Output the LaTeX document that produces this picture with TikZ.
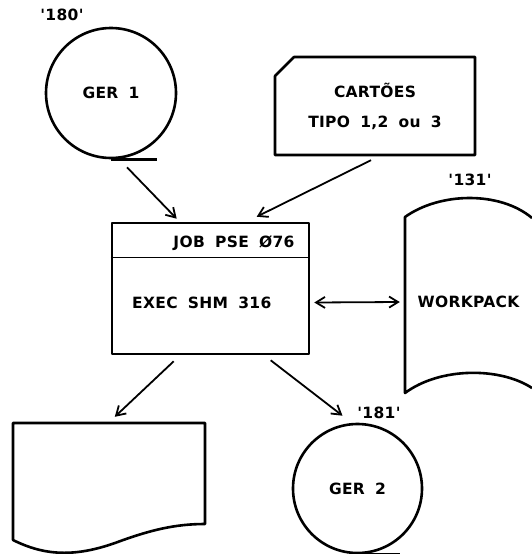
\documentclass[tikz,border=0pt]{standalone}
\usepackage{fontspec}
\usetikzlibrary{arrows.meta, calc}
\newfontfamily\lettering{DejaVu Sans}[LetterSpace=2, WordSpace=1.8]

\begin{document}
\begin{tikzpicture}[
  x=1pt, y=-1pt,
  >={Straight Barb[length=9pt, width=11pt]},
  every node/.style={font=\lettering\bfseries\fontsize{15.5}{18}\selectfont, inner sep=0pt},
  outline/.style={line width=2.6pt, line join=round},
  flow/.style={line width=1.8pt, ->},
]
\useasboundingbox (0,0) rectangle (532,554);

% --- Input tape GER 1 ---
\node[circle, draw, outline, minimum size=130pt] (ger1) at (111,93) {GER 1};
\draw[outline] (ger1.south) -- ++(46,0);
\node (lbl180) at (62,15) {'180'};

% --- Card deck ---
\node[minimum width=200pt, minimum height=98pt, align=center] (cards) at (375,106)
  {CARTÕES\\[12pt]TIPO 1,2 ou 3};
\draw[outline] (275,76) -- (294,57) -- (475,57) -- (475,155) -- (275,155) -- cycle;

% --- Job ---
\node[draw, outline, minimum width=197pt, minimum height=131pt] (job) at (210.5,288.5) {};
\draw[line width=1.4pt] ($(job.north west)+(0,36)$) -- ($(job.north east)+(0,36)$);
\node (jobcard) at (234,243) {JOB PSE Ø76};
\node[anchor=west] (exec) at (132,303) {EXEC SHM 316};

% --- Work disk ---
\node[minimum width=127pt, minimum height=150pt] (workpack) at (468.5,302) {WORKPACK};
\draw[outline] (532,218) .. controls (500,191) and (440,192) .. (405,217) -- (405,393)
  .. controls (440,367) and (500,367) .. (532,388);
\node (lbl131) at (470,180) {'131'};

% --- Output listing ---
\node[minimum width=192pt, minimum height=117pt] (listing) at (109,481.5) {};
\draw[outline] (13,540) -- (13,423) -- (205,423) -- (205,524)
  .. controls (175,524) and (150,530) .. (115,543)
  .. controls (75,557) and (45,556) .. cycle;

% --- Output tape GER 2 ---
\node[circle, draw, outline, minimum size=129pt] (ger2) at (357.5,488.5) {GER 2};
\draw[outline] (ger2.south) -- ++(42,0);
\node (lbl181) at (379,413) {'181'};

% Connections
\draw[flow] ($(ger1.south)+(16,8)$) -- ($(job.north west)+(66,-3)$);
\draw[flow] ($(cards.south)+(-4,5)$) -- ($(job.north west)+(146,-5)$);
\draw[flow, <->] ($(job.east)+(4,14)$) -- ($(workpack.west)+(-5,0)$);
\draw[flow] ($(job.south west)+(63,6)$) -- ($(listing.north west)+(102,-6)$);
\draw[flow] ($(job.south west)+(160,5)$) -- ($(ger2.north)+(-15,-7)$);

\end{tikzpicture}
\end{document}
